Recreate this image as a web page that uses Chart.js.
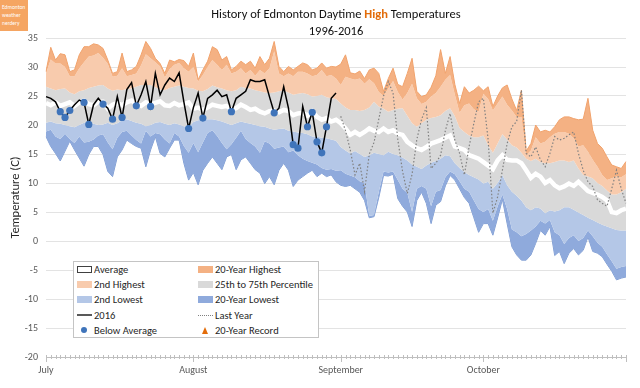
<!DOCTYPE html>
<html>
<head>
<meta charset="utf-8">
<title>History of Edmonton Daytime High Temperatures</title>
<script src="https://cdn.jsdelivr.net/npm/chart.js@4.4.1/dist/chart.umd.min.js"></script>
<style>
  html, body { margin: 0; padding: 0; background: #fff; }
  #wrap { position: relative; width: 640px; height: 388px; overflow: hidden; font-family: Carlito, Calibri, Lato, sans-serif; }
  #chart { position: absolute; left: 0; top: 0; }
  #logo { position: absolute; left: 0; top: 0; width: 28px; height: 31px; box-sizing: border-box; padding: 3px 0 0 2px;
          background: #F5A562; color: #fff; font-size: 5.5px; line-height: 8px; }
  #title { position: absolute; left: 46px; top: 5px; width: 580px; text-align: center; font-size: 12.5px; line-height: 17px; color: #111; }
  #title .hi { color: #E36C09; font-weight: bold; }
  #legend { position: absolute; left: 73px; top: 261px; width: 246px; height: 77px; box-sizing: border-box; padding: 0 0 0 3px;
            border: 1px solid #C4C4C4; background: #fff; display: grid; grid-template-columns: 121px 121px; grid-auto-rows: 15.2px;
            font-size: 10.5px; color: #262626; }
  .item { display: flex; align-items: center; white-space: nowrap; }
  .sym { flex: none; width: 15px; height: 7px; margin-right: 2px; box-sizing: border-box; position: relative; }
</style>
</head>
<body>
<div id="wrap">
  <canvas id="chart" width="640" height="388"></canvas>
  <div id="logo">Edmonton<br>weather<br>nerdery</div>
  <div id="title">History of Edmonton Daytime <span class="hi">High</span> Temperatures<br>1996-2016</div>
  <div id="legend"></div>
</div>
<script>
// x axis: one category per day, July 1 to October 31
const months = ['July', 'August', 'September', 'October'];
const monthDays = [31, 31, 30, 31];
const yTicks = { min: -20, max: 35, step: 5 };

// 20-year highest
const highest = [
  29.2, 33.4, 31.2, 32.3, 32.1, 29.2, 29.5, 32.1, 33.5, 33.5, 34.0, 33.8, 33.2, 31.2, 28.9, 29.2, 32.4, 29.2, 29.5, 30.1, 32.1, 34.4, 33.2, 31.5, 30.6, 28.9, 31.2, 30.9, 31.3, 31.1, 30.1,
  32.4, 27.8, 29.5, 31.0, 33.5, 33.0, 31.2, 31.8, 29.5, 30.1, 31.0, 30.4, 31.0, 29.8, 31.8, 30.4, 31.5, 34.4, 30.1, 29.2, 30.1, 29.5, 30.1, 30.7, 30.4, 29.5, 29.8, 30.7, 29.8, 30.1, 30.0,
  30.5, 32.1, 29.0, 28.8, 29.3, 28.0, 29.5, 29.8, 28.9, 25.8, 28.0, 29.8, 27.0, 26.6, 28.9, 31.5, 25.8, 24.9, 25.2, 26.5, 28.5, 33.0, 28.9, 31.8, 27.0, 23.7, 26.6, 25.5, 26.0, 26.7,
  25.9, 26.6, 23.2, 25.0, 26.4, 26.9, 24.5, 22.5, 26.0, 15.5, 16.8, 20.0, 18.8, 19.1, 18.8, 19.7, 20.9, 21.4, 21.4, 21.1, 20.9, 21.0, 24.6, 19.1, 16.8, 16.0, 14.5, 13.1, 12.8, 12.5, 13.7
];
// 2nd highest
const secondHighest = [
  28.9, 31.3, 30.6, 30.6, 30.0, 28.4, 28.4, 29.8, 30.8, 31.8, 32.0, 32.4, 31.6, 30.5, 28.3, 28.5, 29.8, 28.4, 28.6, 28.9, 30.3, 32.2, 31.5, 30.8, 30.1, 28.2, 29.6, 30.4, 30.7, 29.8, 29.2,
  30.0, 27.5, 28.6, 30.0, 31.2, 30.4, 29.5, 30.4, 28.9, 29.2, 29.8, 28.9, 29.5, 28.5, 29.5, 28.9, 29.8, 32.7, 28.9, 28.4, 28.9, 28.4, 29.2, 29.2, 28.9, 28.4, 28.6, 29.5, 28.4, 28.6, 28.0,
  26.9, 28.3, 28.0, 27.8, 28.0, 27.1, 27.9, 27.2, 25.7, 25.0, 26.3, 27.6, 25.7, 24.4, 25.5, 27.1, 24.6, 23.6, 24.0, 24.9, 25.5, 26.6, 27.8, 28.6, 25.2, 22.1, 23.4, 23.7, 22.7, 22.3,
  25.4, 24.5, 22.5, 23.7, 24.9, 23.5, 22.5, 21.4, 21.4, 14.8, 15.6, 17.9, 16.8, 17.1, 17.9, 18.5, 18.8, 18.8, 18.5, 17.7, 16.3, 16.5, 15.4, 14.0, 12.8, 11.4, 10.5, 10.8, 11.1, 11.0, 11.5
];
// 75th percentile
const pct75 = [
  26.6, 26.3, 26.0, 26.2, 26.3, 25.6, 25.3, 25.8, 26.0, 26.4, 26.6, 26.8, 26.9, 26.3, 25.9, 26.1, 26.0, 26.2, 26.3, 26.6, 26.9, 26.9, 26.9, 26.5, 26.1, 26.0, 26.4, 26.6, 26.8, 26.6, 26.4,
  26.3, 25.9, 25.8, 26.2, 26.8, 26.5, 26.3, 26.0, 25.8, 26.0, 26.6, 26.4, 26.3, 26.0, 25.8, 25.6, 25.5, 25.6, 25.8, 26.0, 25.6, 25.2, 25.4, 25.5, 25.3, 24.9, 25.0, 25.2, 24.8, 24.6, 24.5,
  23.7, 23.0, 22.6, 22.6, 22.4, 22.6, 23.0, 24.0, 23.2, 22.8, 22.3, 22.6, 22.8, 22.9, 21.6, 20.3, 19.7, 20.3, 20.9, 21.2, 21.4, 21.7, 22.4, 22.9, 21.5, 19.5, 18.8, 18.2, 17.9, 17.9,
  18.2, 16.5, 15.2, 16.8, 18.4, 17.5, 16.5, 16.1, 15.2, 14.2, 13.8, 14.2, 13.6, 13.4, 13.4, 13.6, 13.9, 13.9, 13.6, 13.9, 12.5, 11.4, 11.1, 10.8, 10.0, 9.5, 8.7, 8.0, 8.0, 8.4, 9.0
];
// average
const average = [
  23.8, 23.4, 23.9, 23.3, 23.6, 23.9, 23.3, 23.9, 24.2, 23.6, 23.4, 24.0, 24.0, 22.8, 23.5, 23.8, 23.4, 23.9, 24.2, 23.6, 23.3, 23.9, 23.6, 23.8, 24.1, 23.4, 23.3, 23.8, 23.4, 23.6, 23.9,
  22.8, 23.0, 22.6, 23.0, 23.5, 23.3, 23.1, 23.3, 22.7, 22.9, 23.5, 23.1, 22.6, 22.8, 22.3, 22.0, 22.4, 22.5, 22.2, 22.6, 22.4, 21.7, 22.0, 22.1, 21.6, 22.4, 21.4, 20.9, 21.2, 20.6, 20.9,
  20.3, 19.4, 18.3, 18.8, 18.3, 18.8, 19.4, 19.0, 18.8, 19.4, 18.8, 19.1, 18.5, 18.3, 17.1, 16.5, 16.0, 15.7, 16.2, 16.8, 17.1, 17.4, 17.8, 18.2, 16.3, 16.0, 15.7, 14.8, 14.5, 14.2,
  13.6, 13.0, 12.4, 13.9, 14.8, 14.0, 13.9, 13.9, 13.4, 12.2, 10.9, 11.6, 11.1, 10.0, 10.5, 9.6, 9.1, 9.4, 9.9, 9.5, 10.2, 9.4, 8.6, 8.3, 8.0, 7.6, 7.0, 5.0, 4.8, 5.3, 5.6
];
// 25th percentile
const pct25 = [
  20.4, 20.6, 20.3, 20.2, 20.0, 19.8, 19.6, 20.0, 20.4, 20.5, 20.2, 20.0, 20.1, 20.4, 20.0, 20.3, 20.8, 21.0, 20.7, 20.4, 20.2, 19.8, 20.0, 20.4, 20.5, 20.2, 20.0, 20.3, 20.1, 19.8, 19.6,
  20.5, 20.8, 20.9, 21.0, 21.0, 20.8, 20.6, 20.3, 20.0, 20.3, 20.6, 20.4, 20.2, 20.0, 19.8, 19.7, 19.4, 19.2, 19.3, 19.4, 19.0, 18.9, 18.7, 18.6, 18.4, 18.0, 18.0, 17.8, 17.7, 17.5, 17.3,
  16.2, 15.6, 15.1, 15.5, 15.0, 14.5, 14.8, 15.2, 15.0, 14.8, 15.4, 15.0, 14.8, 14.4, 13.9, 13.2, 12.8, 12.4, 13.0, 13.5, 13.8, 14.2, 14.8, 14.6, 13.4, 12.6, 11.9, 11.4, 11.0, 10.6,
  9.9, 10.2, 9.0, 10.0, 11.4, 9.6, 8.5, 7.8, 7.0, 5.8, 5.3, 5.8, 5.6, 4.8, 5.3, 5.1, 5.3, 5.8, 5.8, 5.4, 4.9, 4.5, 4.0, 3.6, 3.2, 2.8, 2.5, 2.2, 1.9, 1.8, 1.8
];
// 2nd lowest
const secondLowest = [
  18.9, 19.2, 18.0, 17.6, 18.5, 17.6, 16.9, 18.0, 17.0, 17.1, 17.5, 18.2, 18.4, 17.0, 15.8, 17.8, 18.8, 19.0, 18.2, 17.4, 16.8, 19.0, 18.0, 18.6, 18.4, 17.5, 16.8, 18.6, 18.0, 16.4, 15.2,
  16.9, 15.3, 17.0, 18.6, 19.1, 18.1, 16.9, 15.8, 16.7, 17.8, 19.0, 17.6, 16.9, 16.3, 15.2, 17.2, 16.8, 15.9, 16.1, 16.3, 15.3, 15.6, 14.8, 14.2, 13.8, 13.5, 13.2, 12.6, 12.3, 12.4, 12.1,
  12.2, 11.6, 11.3, 11.0, 10.3, 10.0, 4.3, 4.5, 8.5, 12.0, 11.8, 12.0, 10.5, 9.0, 8.3, 5.0, 9.0, 9.5, 9.0, 6.0, 8.5, 8.8, 11.0, 12.0, 11.5, 10.3, 9.0, 8.5, 7.0, 5.5,
  5.0, 5.5, 3.5, 6.0, 8.0, 5.5, 2.0, 1.5, 0.8, 1.2, 1.8, 2.5, 3.5, 3.0, 3.6, 1.5, 1.0, -0.5, 0.5, 1.0, 0.0, 0.5, 1.8, 0.8, -0.3, -1.0, -2.3, -3.5, -4.8, -4.5, -4.3
];
// 20-year lowest
const lowest = [
  18.0, 16.3, 15.1, 13.8, 15.5, 17.2, 15.7, 14.3, 12.9, 14.9, 16.3, 16.3, 14.9, 12.0, 11.1, 14.5, 15.7, 17.4, 16.8, 16.3, 16.0, 12.8, 15.7, 18.0, 15.1, 14.5, 16.0, 17.4, 17.4, 13.4, 10.5,
  11.8, 9.7, 12.2, 13.4, 14.5, 13.4, 12.3, 14.5, 14.9, 12.3, 14.0, 14.5, 13.4, 12.3, 11.7, 9.9, 11.1, 9.7, 12.2, 13.4, 12.2, 9.4, 10.5, 11.1, 11.7, 12.2, 11.1, 11.7, 11.1, 11.4, 10.2,
  9.6, 9.4, 9.6, 9.0, 8.4, 7.0, 4.0, 4.2, 7.5, 11.3, 11.2, 11.5, 7.3, 6.0, 5.0, 2.5, 7.0, 8.4, 6.5, 3.0, 6.2, 6.8, 9.5, 11.3, 10.5, 9.0, 7.5, 6.5, 4.0, 1.5,
  3.0, 3.0, 1.0, 4.0, 7.2, 3.0, -1.0, -2.4, -3.3, -3.3, -2.4, -0.4, 1.8, 1.0, 2.5, -2.5, -1.8, -3.9, -2.1, -1.3, -2.4, -1.6, 0.7, -1.8, -2.1, -2.7, -4.0, -5.2, -6.7, -6.4, -6.2
];
// 2016, July 1 to August 31
const year2016 = [
  24.9, 24.6, 24.0, 22.3, 21.3, 22.5, 23.5, 24.3, 23.9, 20.1, 23.5, 24.6, 23.6, 22.9, 21.0, 24.9, 21.3, 26.1, 27.3, 23.3, 25.2, 27.5, 23.2, 28.9, 25.2, 26.9, 28.1, 27.5, 29.0, 24.0, 19.4,
  23.0, 25.5, 21.2, 24.6, 25.2, 26.0, 24.9, 25.2, 22.3, 24.6, 25.2, 25.8, 27.8, 27.5, 27.5, 27.8, 24.9, 22.1, 22.9, 26.6, 22.9, 16.6, 16.0, 23.2, 19.7, 22.2, 17.1, 15.2, 19.7, 24.6, 25.5
];
// days of 2016 that were below average (day index from July 1)
const belowAvgDays = [3, 4, 5, 8, 9, 12, 14, 16, 19, 22, 30, 33, 39, 48, 52, 53, 55, 56, 57, 58, 59];
// last year, September 1 to October 31
const lastYearStart = 62;
const lastYear = [
  21.5, 19.0, 15.7, 11.4, 13.4, 8.5, 15.0, 17.0, 21.0, 25.0, 27.5, 25.5, 17.5, 12.0, 8.2, 11.5, 17.5, 21.0, 23.0, 12.5, 13.4, 14.8, 19.0, 22.0, 17.4, 15.1, 11.4, 16.3, 20.3, 24.0,
  24.6, 17.5, 4.8, 7.6, 12.2, 16.8, 19.7, 20.6, 26.0, 15.1, 14.5, 16.2, 14.0, 12.8, 15.1, 18.0, 17.4, 17.7, 18.3, 18.8, 15.1, 12.2, 10.2, 9.4, 7.1, 6.5, 6.0, 9.0, 12.2, 9.0, 6.5
];
// 2016 days that set a 20-year record (none in this period)
const records = [];

const colors = {
  highest: '#F4B183',
  secondHighest: '#F8CBAD',
  middle: '#D9D9D9',
  secondLowest: '#B4C7E7',
  lowest: '#8FAADC',
  dots: '#3F74BA',
  record: '#E36C09'
};
const fontFamily = 'Carlito, Calibri, Lato, sans-serif';

// Build day labels
const dayLabels = [];
months.forEach((m, k) => {
  for (let d = 1; d <= monthDays[k]; d++) dayLabels.push(m + ' ' + d);
});
const isMonthStart = i => dayLabels[i].endsWith(' 1');

const lastYearData = dayLabels.map((_, i) => i >= lastYearStart ? lastYear[i - lastYearStart] : null);
const belowAvgData = dayLabels.map((_, i) => belowAvgDays.includes(i) ? year2016[i] : null);

// Small day tick marks along the x axis
const dayTicks = {
  id: 'dayTicks',
  afterDraw(chart) {
    const { ctx, chartArea, scales: { x } } = chart;
    ctx.save();
    ctx.strokeStyle = '#BFBFBF';
    ctx.lineWidth = 1;
    for (let i = 0; i < dayLabels.length; i++) {
      const px = Math.round(x.getPixelForValue(i)) + 0.5;
      const major = isMonthStart(i) || i === dayLabels.length - 1;
      ctx.beginPath();
      ctx.moveTo(px, chartArea.bottom - 2);
      ctx.lineTo(px, chartArea.bottom + (major ? 5 : 2));
      ctx.stroke();
    }
    ctx.restore();
  }
};

function band(label, data, color, order, border) {
  return {
    label: label,
    data: data,
    backgroundColor: color,
    borderColor: border || color,
    borderWidth: border ? 1 : 0,
    fill: '-1',
    pointRadius: 0,
    order: order
  };
}

const datasets = [
  { label: '20-Year Lowest base', data: lowest, borderColor: '#7D9BD1', borderWidth: 1, fill: false, pointRadius: 0, order: 10 },
  band('20-Year Lowest', secondLowest, colors.lowest, 9),
  band('2nd Lowest', pct25, colors.secondLowest, 8),
  band('25th to 75th Percentile', pct75, colors.middle, 7),
  band('2nd Highest', secondHighest, colors.secondHighest, 6),
  band('20-Year Highest', highest, colors.highest, 5, '#F1A36D'),
  { label: 'Average', data: average, borderColor: '#FFFFFF', borderWidth: 4.5, fill: false, pointRadius: 0, order: 4 },
  { label: 'Last Year', data: lastYearData, borderColor: '#808080', borderWidth: 1.2, borderDash: [1.5, 2], fill: false, pointRadius: 0, order: 3 },
  { label: '2016', data: year2016, borderColor: '#000000', borderWidth: 1.5, fill: false, pointRadius: 0, order: 2 },
  { label: 'Below Average', data: belowAvgData, showLine: false, pointRadius: 3.6, pointBackgroundColor: colors.dots, pointBorderWidth: 0, order: 1 },
  { label: '20-Year Record', data: records, showLine: false, pointStyle: 'triangle', pointRadius: 4, pointBackgroundColor: colors.record, pointBorderWidth: 0, order: 0 }
];

new Chart(document.getElementById('chart'), {
  type: 'line',
  data: { labels: dayLabels, datasets: datasets },
  options: {
    responsive: false,
    animation: false,
    devicePixelRatio: 1,
    layout: { padding: { top: 38, right: 14, bottom: 0, left: 0 } },
    elements: { line: { tension: 0 } },
    plugins: {
      legend: { display: false },
      tooltip: { enabled: false },
      title: { display: false }
    },
    scales: {
      x: {
        type: 'category',
        offset: false,
        grid: { display: false, drawTicks: false },
        border: { display: true, color: '#BFBFBF' },
        ticks: {
          autoSkip: false,
          maxRotation: 0,
          padding: 7,
          color: '#595959',
          font: { family: fontFamily, size: 10 },
          callback: function(value) {
            return isMonthStart(value) ? months[dayLabels[value].indexOf(' ') > 0 ? months.indexOf(dayLabels[value].split(' ')[0]) : 0] : '';
          }
        },
        afterFit: s => { s.height = 31; }
      },
      y: {
        min: yTicks.min,
        max: yTicks.max,
        ticks: { stepSize: yTicks.step, padding: 8, color: '#595959', font: { family: fontFamily, size: 10 } },
        grid: { color: '#E3E3E3', drawTicks: false },
        border: { display: false },
        title: { display: true, text: 'Temperature (C)', color: '#262626', font: { family: fontFamily, size: 12.5 }, padding: { top: 8, bottom: 0 } },
        afterFit: s => { s.width = 46; }
      }
    }
  },
  plugins: [dayTicks]
});

// HTML legend in two columns
const legendItems = [
  { text: 'Average', css: 'background:#fff;border:1px solid #404040;' },
  { text: '20-Year Highest', css: 'background:' + colors.highest + ';' },
  { text: '2nd Highest', css: 'background:' + colors.secondHighest + ';' },
  { text: '25th to 75th Percentile', css: 'background:' + colors.middle + ';' },
  { text: '2nd Lowest', css: 'background:' + colors.secondLowest + ';' },
  { text: '20-Year Lowest', css: 'background:' + colors.lowest + ';' },
  { text: '2016', css: 'height:2px;background:#595959;' },
  { text: 'Last Year', css: 'height:0;border-top:1px dotted #808080;' },
  { text: 'Below Average', dot: true },
  { text: '20-Year Record', tri: true }
];
const legend = document.getElementById('legend');
legendItems.forEach(item => {
  const el = document.createElement('div');
  el.className = 'item';
  let sym;
  if (item.dot) {
    sym = '<span class="sym" style="height:7px"><span style="position:absolute;left:4px;top:0.5px;width:6px;height:6px;border-radius:50%;background:' + colors.dots + '"></span></span>';
  } else if (item.tri) {
    sym = '<span class="sym" style="height:7px"><span style="position:absolute;left:4px;top:0;width:0;height:0;border-left:3.5px solid transparent;border-right:3.5px solid transparent;border-bottom:7px solid ' + colors.record + '"></span></span>';
  } else {
    sym = '<span class="sym" style="' + item.css + '"></span>';
  }
  el.innerHTML = sym + '<span>' + item.text + '</span>';
  legend.appendChild(el);
});
</script>
</body>
</html>
